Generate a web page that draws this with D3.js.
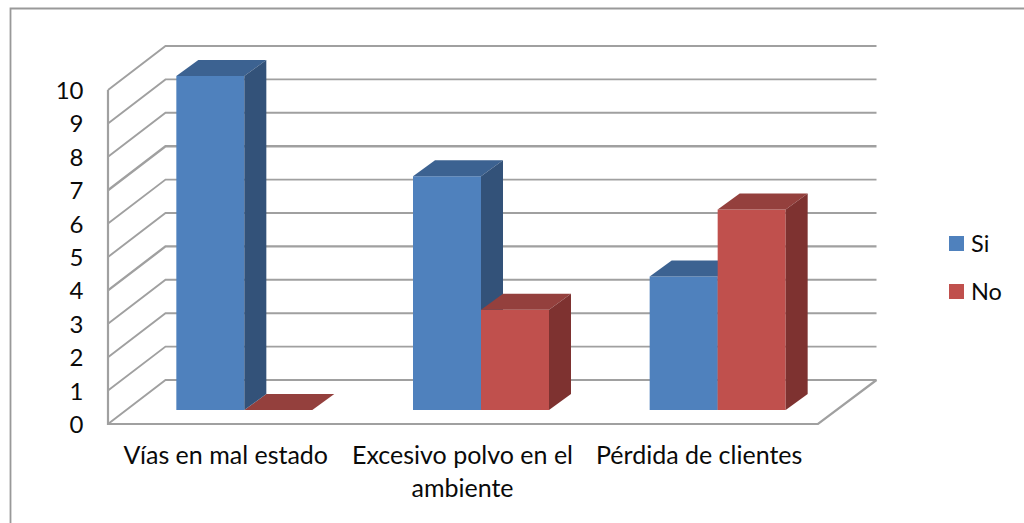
<!DOCTYPE html>
<html><head><meta charset="utf-8">
<script src="https://cdn.jsdelivr.net/npm/d3@7/dist/d3.min.js"></script>
<style>html,body{margin:0;padding:0;background:#fff}svg{display:block}text{font-family:Lato,"Open Sans",sans-serif;fill:#0a0a0a}</style>
</head><body><svg id="c" width="1024" height="523"></svg>
<script>
const categories = ["Vías en mal estado", "Excesivo polvo en el ambiente", "Pérdida de clientes"];
const catLines = [["Vías en mal estado"],["Excesivo polvo en el","ambiente"],["Pérdida de clientes"]];
const seriesNames = ["Si", "No"];
const si = [10, 7, 4];
const no = [0, 3, 6];
const tickValues = [0,1,2,3,4,5,6,7,8,9,10];
const faces = {Si:["#4f81bd","#3c6291","#335279"], No:["#c0504d","#94403d","#7e3230"]};

const svg = d3.select("#c");
const x = d3.scaleBand().domain(categories).range([108,818]);
const y = d3.scaleLinear().domain([0,10]).range([424,90]);
const wall = {dx:57.5, dy:-44};
const barOff = {dx:18, dy:-14};
const depth = {dx:22, dy:-16};
const barW = 68;
const GRID = "#a0a0a0";

// outer frame (top and left edges only are visible)
svg.append("path").attr("d","M10.5,523V8.5H1024").attr("fill","none").attr("stroke","#999").attr("stroke-width",1.8);

// walls and gridlines
const g = svg.append("g").attr("fill","none").attr("stroke",GRID);
tickValues.forEach(v=>{
  const yy=y(v);
  g.append("path").attr("d",`M${x.range()[0]},${yy}L${x.range()[0]+wall.dx},${yy+wall.dy}H${x.range()[1]+wall.dx+1}`)
   .attr("stroke-width",(v===7||v===4)?2.4:1.9);
});
g.append("path").attr("d",`M${x.range()[0]},${y(10)}V${y(0)}H${x.range()[1]}L${x.range()[1]+wall.dx+1},${y(0)+wall.dy}`).attr("stroke-width",2.2);

// bars
function bar(cat,val,i,name){
  const x0=x(cat)+x.bandwidth()/2+barOff.dx+(i-1)*barW, x1=x0+barW;
  const yb=y(0)+barOff.dy, yt=y(val)+barOff.dy;
  const f=faces[name], b=svg.append("g");
  const poly=(p,c)=>b.append("polygon").attr("points",p.map(q=>q.join(",")).join(" ")).attr("fill",c);
  if(val>0) poly([[x0,yt],[x1,yt],[x1,yb],[x0,yb]],f[0]);
  poly([[x0,yt],[x1,yt],[x1+depth.dx,yt+depth.dy],[x0+depth.dx,yt+depth.dy]],f[1]);
  if(val>0) poly([[x1,yt],[x1+depth.dx,yt+depth.dy],[x1+depth.dx,yb+depth.dy],[x1,yb]],f[2]);
}
categories.forEach((c,k)=>{ if(no[k]===0) bar(c,no[k],1,"No"); });
categories.forEach((c,k)=>{ bar(c,si[k],0,"Si"); if(no[k]>0) bar(c,no[k],1,"No"); });

// value axis
const ax = svg.append("g").attr("transform","translate(83.5,0)").call(d3.axisLeft(y).tickValues(tickValues).tickSize(0).tickPadding(0).tickFormat(d3.format("d")));
ax.select(".domain").remove();
ax.selectAll("text").attr("font-size",24).attr("dy","0.35em").style("font-family","Lato,'Open Sans',sans-serif");

// category labels
categories.forEach((c,k)=>{
  catLines[k].forEach((t,j)=>svg.append("text").text(t).attr("x",x(c)+x.bandwidth()/2-0.5).attr("y",464+j*32.5).attr("text-anchor","middle").attr("font-size",25));
});

// legend
const legendY = d3.scalePoint().domain(seriesNames).range([243.5,291.5]);
seriesNames.forEach(n=>{
  svg.append("rect").attr("x",949).attr("y",legendY(n)-7.5).attr("width",15).attr("height",15).attr("fill",faces[n][0]);
  svg.append("text").text(n).attr("x",971).attr("y",legendY(n)+8).attr("font-size",23.5);
});
</script></body></html>
